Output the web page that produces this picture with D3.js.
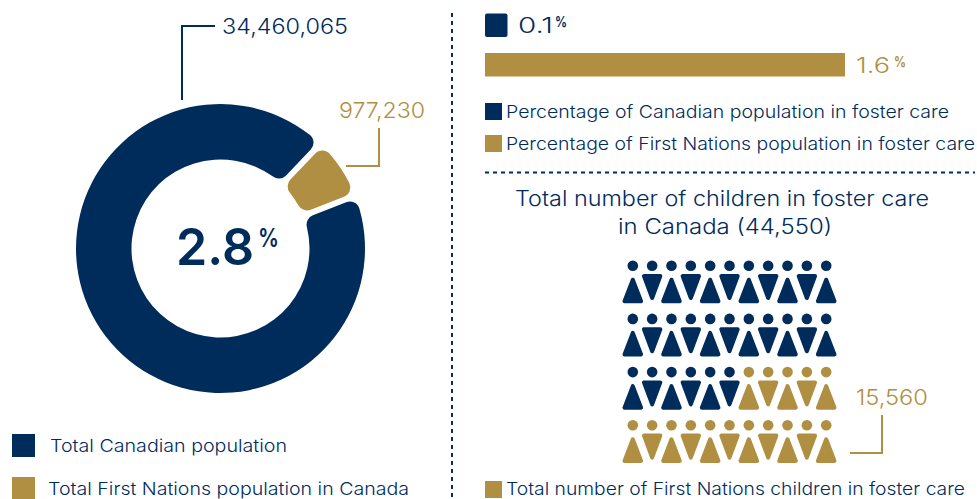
<!DOCTYPE html>
<html><head><meta charset="utf-8">
<script src="https://cdn.jsdelivr.net/npm/d3@7"></script>
<style>html,body{margin:0;padding:0;background:#fff;overflow:hidden}svg{display:block}text{font-family:Inter,"Noto Sans",sans-serif}</style>
</head><body><svg id="c" width="977" height="499"></svg>
<script>
const navy="#002c5c", gold="#b08f42";
// Donut: labels and the slice shares as drawn in the picture
const donutLabels=["Total Canadian population","Total First Nations population in Canada"];
const donutTotals=[34460065,977230];
const donutDrawnShares=[93.1,6.9];
const donutCentreLabel="2.8";
// Foster-care bars (percent)
const barLabels=["Percentage of Canadian population in foster care","Percentage of First Nations population in foster care"];
const barValues=[0.1,1.6];
// Pictogram: navy figures per row out of 11
const pictoRows=[11,11,6,0];
const pictoColumns=11;
const pictoTitle=["Total number of children in foster care","in Canada (44,550)"];
const pictoTotal=15560;
const pictoLabel="Total number of First Nations children in foster care";

const svg=d3.select("#c");
const fmt=d3.format(",");
function txt(s,x,y,size,fill,len,weight){
  const t=svg.append("text").attr("x",x).attr("y",y).attr("font-size",size).attr("fill",fill).attr("font-weight",weight||300).text(s);
  if(len) t.attr("textLength",len).attr("lengthAdjust","spacingAndGlyphs");
  return t;
}
function path(pts,col){svg.append("path").attr("d",d3.line()(pts)).attr("fill","none").attr("stroke",col).attr("stroke-width",2);}

// Donut
const cx=220.5,cy=248.5;
const rad=Math.PI/180;
const pie=d3.pie().sort(null).startAngle(68.5*rad).endAngle((68.5+360)*rad);
const arc=d3.arc().innerRadius(89).outerRadius(144.5).cornerRadius(10).padAngle(0.035);
svg.append("g").attr("transform",`translate(${cx},${cy})`).selectAll("path").data(pie(donutDrawnShares)).join("path")
  .attr("d",arc).attr("fill",(d,i)=>i?gold:navy);
txt(donutCentreLabel,176,265,51,navy,78,600);
txt("%",258,247,26,navy,21,600);

// Leaders & labels
path([[182,100],[182,26],[215,26]],navy);
txt(fmt(donutTotals[0]),222,34,22,navy,126);
path([[379,128],[379,166],[346,166]],gold);
txt(fmt(donutTotals[1]),339,118,22,gold,86);

// Left legend
[[12,434],[12,477]].forEach((p,i)=>{
  svg.append("rect").attr("x",p[0]).attr("y",p[1]).attr("width",23).attr("height",23).attr("fill",i?gold:navy);
});
txt(donutLabels[0],50,452,17.5,navy,237);
txt(donutLabels[1],48,495,17.5,navy,361);

// Dividers
svg.append("line").attr("x1",452).attr("x2",452).attr("y1",13).attr("y2",499).attr("stroke",navy).attr("stroke-width",2).attr("stroke-dasharray","4 4");
svg.append("line").attr("x1",485).attr("x2",975).attr("y1",172.5).attr("y2",172.5).attr("stroke",navy).attr("stroke-width",2).attr("stroke-dasharray","4 4");

// Bars
const x=d3.scaleLinear().domain([0,1.6]).range([485,845]);
svg.selectAll("rect.bar").data(barValues).join("rect").attr("class","bar")
  .attr("x",x(0)).attr("y",(d,i)=>i?53:13.5).attr("width",d=>x(d)-x(0)).attr("height",23.5)
  .attr("fill",(d,i)=>i?gold:navy).attr("rx",(d,i)=>i?0:2);
txt(barValues[0].toFixed(1),518,33,22,navy,35);
txt("%",555,27,15,navy,12,700);
txt(barValues[1].toFixed(1),856,73,22,gold,34);
txt("%",894,67,15,gold,12,700);
[[103,0],[135,1]].forEach(([y,i])=>{
  svg.append("rect").attr("x",485).attr("y",y).attr("width",17).attr("height",17).attr("fill",i?gold:navy);
});
txt(barLabels[0],506,118,17.5,navy,443);
txt(barLabels[1],506,150,17.5,navy,469);

// Pictogram
txt(pictoTitle[0],515,206,21,navy,414);
txt(pictoTitle[1],618,234,21,navy,214);
const px=d3.scalePoint().domain(d3.range(pictoColumns)).range([632.8,826.2]);
const py=d3.scalePoint().domain(d3.range(pictoRows.length)).range([265.7,425.3]);
const line=d3.line();
const up=[[0,14],[8.3,35.6],[-8.3,35.6]], down=[[-8.2,10.3],[8.2,10.3],[0,32.3]];
pictoRows.forEach((n,r)=>{
  const g=svg.append("g");
  d3.range(pictoColumns).forEach(c=>{
    const col=c<n?navy:gold;
    const fig=g.append("g").attr("transform",`translate(${px(c)},${py(r)})`);
    fig.append("circle").attr("r",5.3).attr("fill",col);
    fig.append("path").attr("d",line(c%2?down:up)+"Z").attr("fill",col).attr("stroke",col).attr("stroke-width",4).attr("stroke-linejoin","round");
  });
});
path([[882,415],[882,453],[850,453]],gold);
txt(fmt(pictoTotal),856,405,22,gold,72);
svg.append("rect").attr("x",485).attr("y",481).attr("width",17).attr("height",17).attr("fill",gold);
txt(pictoLabel,506,495,17.5,navy,459);
</script></body></html>
